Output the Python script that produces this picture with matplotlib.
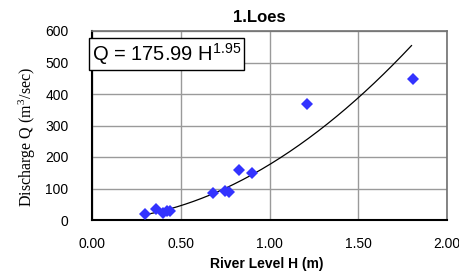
import numpy as np
import matplotlib
matplotlib.use("Agg")
import matplotlib.pyplot as plt

plt.rcParams["font.family"] = ["Liberation Sans", "DejaVu Sans"]
plt.rcParams["mathtext.fontset"] = "custom"
plt.rcParams["mathtext.rm"] = "Liberation Sans"

# observed river level (m) and discharge (m3/sec)
level_h = [0.30, 0.36, 0.40, 0.42, 0.44, 0.68, 0.75, 0.77, 0.83, 0.90, 1.21, 1.81]
discharge_q = [18, 34, 21, 29, 27, 85, 93, 88, 159, 150, 367, 449]

coef_a = 175.99
coef_b = 1.95
fit_range = [0.30, 1.80]

xticks = [0.0, 0.5, 1.0, 1.5, 2.0]
yticks = [0, 100, 200, 300, 400, 500, 600]

fig = plt.figure(figsize=(4.59, 2.73), dpi=100)
ax = fig.add_axes([92 / 459, 1 - 220 / 273, 355 / 459, 189 / 273])

hh = np.linspace(fit_range[0], fit_range[1], 200)
ax.plot(hh, coef_a * hh ** coef_b, color="black", lw=0.9, zorder=3)
ax.plot(level_h, discharge_q, linestyle="none", marker="D", color="#3333ff",
        markersize=6.5, markeredgewidth=0, zorder=4)

ax.set_xlim(0, 2)
ax.set_ylim(0, 600)
ax.set_xticks(xticks)
ax.set_xticklabels(["%.2f" % v for v in xticks])
ax.set_yticks(yticks)
ax.grid(True, color="#9a9a9a", lw=1.0)
ax.set_axisbelow(True)
ax.tick_params(length=0, labelsize=10, colors="black")
ax.tick_params(axis="y", pad=17)
ax.tick_params(axis="x", pad=12)
for s in ["top", "right"]:
    ax.spines[s].set_color("#707070")
    ax.spines[s].set_linewidth(1.2)
for s in ["left", "bottom"]:
    ax.spines[s].set_color("black")
    ax.spines[s].set_linewidth(1.5)

ax.text(0.0, 527, r"Q = 175.99 H$^{\mathregular{1.95}}$", fontsize=14.5, va="center",
        ha="left", zorder=5,
        bbox=dict(boxstyle="square,pad=0.15", fc="white", ec="black", lw=1.0))

fig.text(259 / 459, 1 - 17 / 273, "1.Loes", fontsize=12, fontweight="bold",
         ha="center", va="center")
fig.text(267 / 459, 1 - 264 / 273, "River Level H (m)", fontsize=10,
         fontweight="bold", ha="center", va="center")
fig.text(27 / 459, 1 - 137 / 273, "Discharge Q (m$^{\\mathregular{3}}$/sec)",
         family="Liberation Serif", fontsize=11.5, rotation=90,
         ha="center", va="center", math_fontfamily="stix")

fig.savefig("out.png", dpi=100)
